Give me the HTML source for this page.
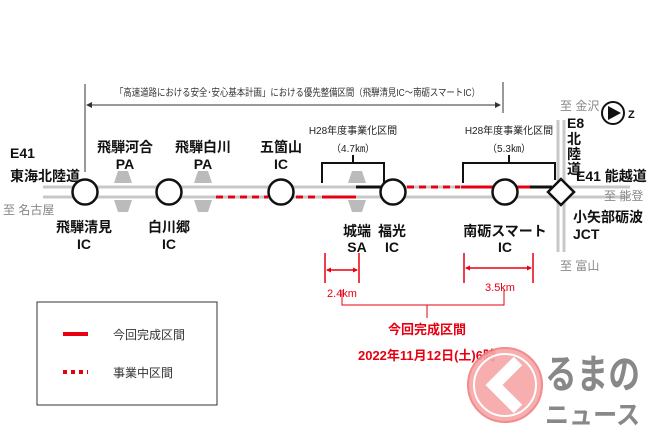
<!DOCTYPE html>
<html><head><meta charset="utf-8"><style>
html,body{margin:0;padding:0;background:#fff;}
svg{display:block;font-family:"Liberation Sans","Noto Sans CJK JP",sans-serif;}
.b{font-weight:bold;fill:#111;font-size:14px;}
.g{fill:#888;font-size:12px;}
</style></head><body>
<svg width="650" height="433" viewBox="0 0 650 433" xmlns="http://www.w3.org/2000/svg">
<rect width="650" height="433" fill="#fff"/>
<line x1="85" y1="84" x2="85" y2="172" stroke="#333" stroke-width="1"/>
<line x1="503" y1="82" x2="503" y2="113" stroke="#333" stroke-width="1"/>
<line x1="88" y1="105" x2="498" y2="105" stroke="#333" stroke-width="1"/>
<path d="M86 105 l6 -3 v6z M501 105 l-6 -3 v6z" fill="#333"/>
<text x="115" y="96" font-size="10" fill="#333" textLength="365" lengthAdjust="spacingAndGlyphs">「高速道路における安全･安心基本計画」における優先整備区間（飛騨清見IC～南砺スマートIC）</text>
<line x1="43" y1="187" x2="630" y2="187" stroke="#c8c8c8" stroke-width="3"/>
<line x1="43" y1="197" x2="630" y2="197" stroke="#c8c8c8" stroke-width="3"/>
<line x1="558" y1="120" x2="558" y2="252" stroke="#c8c8c8" stroke-width="3"/>
<line x1="564" y1="120" x2="564" y2="252" stroke="#c8c8c8" stroke-width="3"/>
<line x1="216" y1="197" x2="268" y2="197" stroke="#e60012" stroke-width="3" stroke-dasharray="7,5"/>
<line x1="296" y1="197" x2="320" y2="197" stroke="#e60012" stroke-width="3" stroke-dasharray="7,5"/>
<line x1="322" y1="197" x2="356" y2="197" stroke="#e60012" stroke-width="3"/>
<line x1="356" y1="187" x2="382" y2="187" stroke="#111" stroke-width="3"/>
<line x1="407" y1="187" x2="460" y2="187" stroke="#e60012" stroke-width="3" stroke-dasharray="7,5"/>
<line x1="461" y1="187" x2="495" y2="187" stroke="#e60012" stroke-width="3"/>
<line x1="517" y1="187" x2="530" y2="187" stroke="#e60012" stroke-width="3"/>
<line x1="530" y1="187" x2="552" y2="187" stroke="#111" stroke-width="3"/>
<g fill="#bbb">
<path d="M118 171 h10 l4 12 h-18z M114 200 h18 l-4 12 h-10z"/>
<path d="M198 171 h10 l4 12 h-18z M194 200 h18 l-4 12 h-10z"/>
<path d="M352 171 h10 l4 12 h-18z M348 200 h18 l-4 12 h-10z"/>
</g>
<g fill="#fff" stroke="#111" stroke-width="2.5">
<circle cx="85" cy="192" r="12.5"/>
<circle cx="169" cy="192" r="12.5"/>
<circle cx="281" cy="192" r="12.5"/>
<circle cx="393" cy="192" r="12.5"/>
<circle cx="505" cy="192" r="12.5"/>
<path d="M561 179 l13 13 -13 13 -13 -13z"/>
</g>
<g fill="none" stroke="#111" stroke-width="2">
<path d="M322 183 V163 H384 V183 M353 163 V155"/>
<path d="M463 183 V163 H555 V180 M509 163 V155"/>
</g>
<g font-size="10" fill="#222" text-anchor="middle">
<text x="353" y="134">H28年度事業化区間</text>
<text x="353" y="152">（4.7㎞）</text>
<text x="509" y="134">H28年度事業化区間</text>
<text x="509" y="152">（5.3㎞）</text>
</g>
<text class="b" x="10" y="158">E41</text>
<text class="b" x="10" y="181">東海北陸道</text>
<text class="g" x="3" y="214">至 名古屋</text>
<g class="b" text-anchor="middle">
<text x="125" y="152">飛騨河合</text><text x="125" y="169">PA</text>
<text x="203" y="152">飛騨白川</text><text x="203" y="169">PA</text>
<text x="281" y="152">五箇山</text><text x="281" y="169">IC</text>
<text x="84" y="232">飛騨清見</text><text x="84" y="249">IC</text>
<text x="169" y="232">白川郷</text><text x="169" y="249">IC</text>
<text x="357" y="236">城端</text><text x="357" y="252">SA</text>
<text x="392" y="236">福光</text><text x="392" y="252">IC</text>
<text x="505" y="236">南砺スマート</text><text x="505" y="252">IC</text>
</g>
<text class="b" x="567" y="128">E8</text>
<g class="b" text-anchor="middle"><text x="574" y="144">北</text><text x="574" y="159">陸</text><text x="574" y="174">道</text></g>
<text class="b" x="576" y="181">E41 能越道</text>
<text class="g" x="604" y="200">至 能登</text>
<text class="b" x="573" y="222">小矢部砺波</text>
<text class="b" x="573" y="239">JCT</text>
<text class="g" x="560" y="270">至 富山</text>
<text class="g" x="560" y="110">至 金沢</text>
<circle cx="613" cy="113" r="11" fill="#fff" stroke="#111" stroke-width="2"/>
<path d="M608 106 L621 113 L608 120z" fill="#111"/>
<text x="628" y="118" font-size="11" font-weight="bold" fill="#111">Z</text>
<g stroke="#e60012" stroke-width="1.5" fill="none">
<path d="M325 253 V283 M359 253 V283 M327 270 H357"/>
<path d="M464 253 V283 M533 253 V283 M466 268 H531"/>
<path d="M342 290 V305 H504 V290 M427 305 V318" stroke-width="1"/>
</g>
<path d="M326 270 l5 -2.5 v5z M358 270 l-5 -2.5 v5z M465 268 l5 -2.5 v5z M532 268 l-5 -2.5 v5z" fill="#e60012"/>
<g fill="#e60012" text-anchor="middle">
<text x="342" y="297" font-size="11">2.4km</text>
<text x="500" y="291" font-size="11">3.5km</text>
<text x="427" y="334" font-size="13" font-weight="bold">今回完成区間</text>
<text x="427" y="360" font-size="13" font-weight="bold">2022年11月12日(土)6時</text>
</g>
<rect x="37" y="302" width="180" height="103" fill="#fff" stroke="#333" stroke-width="1"/>
<line x1="63" y1="334" x2="88" y2="334" stroke="#e60012" stroke-width="4"/>
<line x1="63" y1="372" x2="88" y2="372" stroke="#e60012" stroke-width="4" stroke-dasharray="4,4"/>
<text x="113" y="339" font-size="12" fill="#333">今回完成区間</text>
<text x="113" y="377" font-size="12" fill="#333">事業中区間</text>
<circle cx="505" cy="385" r="37" fill="#f7a6a6" stroke="#f08080" stroke-width="2" opacity="0.9"/>
<circle cx="505" cy="385" r="31" fill="none" stroke="#fff" stroke-width="2"/>
<path d="M518 361 L494 385 L518 409" fill="none" stroke="#fff" stroke-width="12"/>
<text x="545" y="388" font-size="40" font-weight="bold" fill="#888" textLength="95" lengthAdjust="spacingAndGlyphs">るまの</text>
<text x="545" y="424" font-size="26" font-weight="bold" fill="#888" textLength="95" lengthAdjust="spacingAndGlyphs">ニュース</text>
</svg>
</body></html>
